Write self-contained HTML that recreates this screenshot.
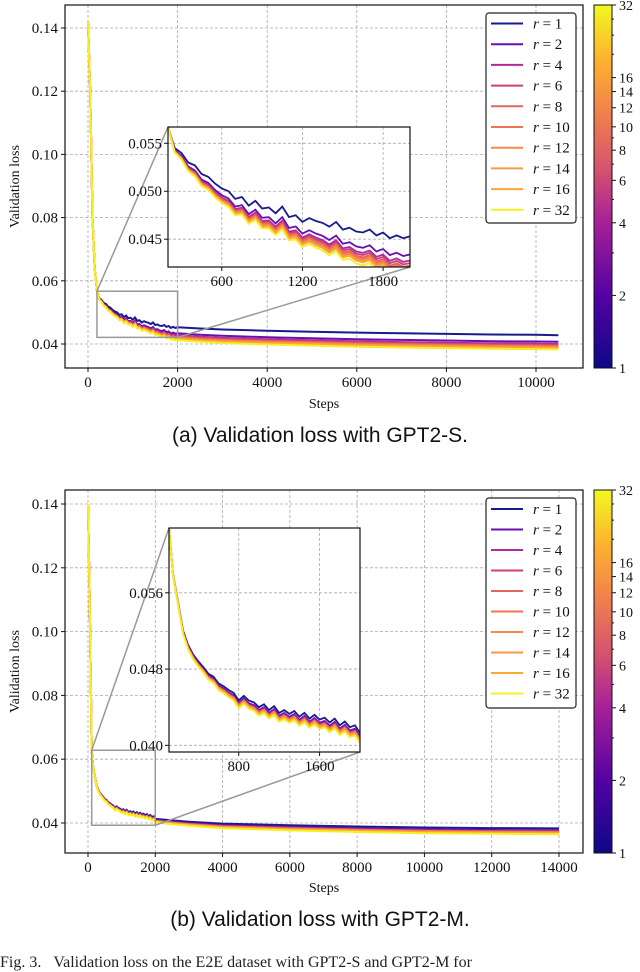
<!DOCTYPE html>
<html><head><meta charset="utf-8">
<style>
html,body{margin:0;padding:0;background:#fff;}
body{width:640px;height:963px;overflow:hidden;position:relative;}
svg{position:absolute;left:0;top:0;}
.cap{position:absolute;left:0;width:640px;text-align:center;font-family:"Liberation Sans",sans-serif;font-size:21px;color:#111;}
</style></head>
<body>
<svg id="svg" width="640" height="963"></svg>
<div class="cap" style="top:424px">(a) Validation loss with GPT2-S.</div>
<div class="cap" style="top:908px">(b) Validation loss with GPT2-M.</div>
<div style="position:absolute;left:0;top:954px;font-family:'Liberation Serif',serif;font-size:16px;color:#222;white-space:nowrap">Fig. 3.&nbsp;&nbsp;&nbsp;Validation loss on the E2E dataset with GPT2-S and GPT2-M for</div>
<script>
// ---- data ----
const ranks = [1,2,4,6,8,10,12,14,16,32];
const rankColors = ['#1a1a8c','#6a0fb0','#b02a9a','#cc3f78','#e06662','#ef7350','#f58a4a','#f79a45','#fca636','#f5f020'];
const cbTicks = [1,2,4,6,8,10,12,14,16,32];

const stepsA = [0,50,100,150,200,250,300,350,400,450,500,550,600,650,700,750,800,850,900,950,1000,1050,1100,1150,1200,1250,1300,1350,1400,1450,1500,1550,1600,1650,1700,1750,1800,1850,1900,1950,2000,2500,3000,4000,5000,6000,7000,8000,9000,10000,10500];
const lossA_r1 = [0.142,0.12,0.08,0.064,0.0567,0.0545,0.054,0.053,0.0527,0.0518,0.0515,0.0508,0.0503,0.05,0.0492,0.0494,0.0485,0.049,0.0482,0.0483,0.0477,0.0484,0.0473,0.0475,0.0468,0.0472,0.0469,0.0467,0.0463,0.0468,0.046,0.0462,0.0458,0.0457,0.046,0.0454,0.0457,0.0451,0.0454,0.0451,0.0453,0.0449,0.0446,0.0442,0.0439,0.0436,0.0434,0.0432,0.043,0.0429,0.0428];
const gapA = [0,0,0,0,0,0.1,0.15,0.2,0.25,0.28,0.3,0.32,0.34,0.36,0.38,0.4,0.42,0.44,0.46,0.48,0.5,0.52,0.54,0.56,0.58,0.6,0.62,0.64,0.66,0.68,0.7,0.72,0.74,0.76,0.78,0.8,0.82,0.84,0.86,0.88,0.9,0.93,0.95,0.97,0.98,0.99,1,1,1,1,1];
const offsetA = [0,-0.0021,-0.0028,-0.0031,-0.0034,-0.0036,-0.0038,-0.004,-0.0041,-0.0045];

const stepsB = [0,50,110,150,200,250,300,350,400,450,500,550,600,650,700,750,800,850,900,950,1000,1050,1100,1150,1200,1250,1300,1350,1400,1450,1500,1550,1600,1650,1700,1750,1800,1850,1900,1950,2000,2500,3000,4000,6000,8000,10000,12000,14000];
const lossB_r1 = [0.14,0.11,0.0628,0.058,0.055,0.052,0.0505,0.0495,0.0488,0.0482,0.0475,0.0472,0.0465,0.0462,0.0458,0.0455,0.0447,0.0452,0.0447,0.0445,0.044,0.0443,0.0437,0.0441,0.0434,0.0437,0.0433,0.0436,0.043,0.0434,0.0428,0.0432,0.0427,0.0429,0.0424,0.0428,0.0421,0.0425,0.0419,0.0421,0.0413,0.0408,0.0404,0.0398,0.0393,0.0389,0.0386,0.0384,0.0383];
const gapB = [0,0,0,0.1,0.15,0.2,0.25,0.28,0.3,0.32,0.34,0.36,0.38,0.4,0.42,0.44,0.45,0.46,0.47,0.48,0.49,0.5,0.5,0.51,0.51,0.52,0.52,0.53,0.53,0.54,0.54,0.55,0.55,0.56,0.56,0.57,0.57,0.58,0.58,0.59,0.6,0.65,0.7,0.8,0.9,0.95,1,1,1];
const offsetB = [0,-0.0006,-0.0009,-0.001,-0.0011,-0.0012,-0.0013,-0.0014,-0.0015,-0.0018];

const xTicksA = [0,2000,4000,6000,8000,10000];
const xTicksB = [0,2000,4000,6000,8000,10000,12000,14000];
const yTicks = [0.04,0.06,0.08,0.10,0.12,0.14];
const insetXTicksA = [600,1200,1800];
const insetYTicksA = [0.045,0.050,0.055];
const insetXTicksB = [800,1600];
const insetYTicksB = [0.040,0.048,0.056];

// ---- drawing ----
const NS='http://www.w3.org/2000/svg';
const svg=document.getElementById('svg');
function mk(tag,attrs,parent){const e=document.createElementNS(NS,tag);for(const k in attrs)e.setAttribute(k,attrs[k]);(parent||svg).appendChild(e);return e;}
function txt(s,attrs,parent){const e=mk('text',Object.assign({'font-family':'Liberation Serif, serif','font-size':'15','fill':'#111'},attrs),parent);e.textContent=s;return e;}
function lin(d0,d1,p0,p1){return v=>p0+(v-d0)*(p1-p0)/(d1-d0);}
let clipId=0;

function drawChart(c){
  const g=mk('g',{});
  
  
  const X=lin(c.x0,c.x1,c.px0,c.px1), Y=lin(c.y0,c.y1,c.py0,c.py1);
  const L=65,R=583,T=c.top,B=c.bottom;
  c.xTicks.forEach(t=>{const l=mk('line',{x1:X(t),x2:X(t),y1:T,y2:B,stroke:'#aaa','stroke-width':0.8,'stroke-dasharray':'3,2'},g);});
  yTicks.forEach(t=>{const l=mk('line',{x1:L,x2:R,y1:Y(t),y2:Y(t),stroke:'#aaa','stroke-width':0.8,'stroke-dasharray':'3,2'},g);});
  const cid='c'+(clipId++);
  const cp=mk('clipPath',{id:cid},g);mk('rect',{x:L,y:T,width:R-L,height:B-T},cp);
  const lg=mk('g',{'clip-path':'url(#'+cid+')'},g);
  const series=ranks.map((r,i)=>c.steps.map((s,j)=>[s,c.base[j]+c.offset[i]*c.gap[j]]));
  series.forEach((ser,i)=>{const p=mk('polyline',{points:ser.map(d=>X(d[0]).toFixed(1)+','+Y(d[1]).toFixed(1)).join(' '),fill:'none',stroke:rankColors[i],'stroke-width':2},lg);});
  const fr=mk('rect',{x:L,y:T,width:R-L,height:B-T,fill:'none',stroke:'#111','stroke-width':1.2},g);
  c.xTicks.forEach(t=>{mk('line',{x1:X(t),x2:X(t),y1:B,y2:B+4,stroke:'#111'},g);const e=txt(String(t),{x:X(t),y:B+19,'text-anchor':'middle'},g);});
  yTicks.forEach(t=>{mk('line',{x1:L-4,x2:L,y1:Y(t),y2:Y(t),stroke:'#111'},g);const e=txt(t.toFixed(2),{x:L-7,y:Y(t)+5,'text-anchor':'end'},g);});
  const xl=txt('Steps',{x:324,y:c.xlabelY,'text-anchor':'middle','font-size':'14'},g);
  const yl=txt('Validation loss',{x:0,y:0,'text-anchor':'middle','font-size':'14',transform:'translate(19,'+((T+B)/2)+') rotate(-90)'},g);
  const ins=c.inset;
  const rx0=X(ins.x0),rx1=X(ins.x1),ry0=Y(ins.y1),ry1=Y(ins.y0);
  const zr=mk('rect',{x:rx0,y:ry0,width:rx1-rx0,height:ry1-ry0,fill:'none',stroke:'#999','stroke-width':1.5},g);
  mk('line',{x1:rx0,y1:ry0,x2:ins.L,y2:ins.T,stroke:'#999','stroke-width':1.5},g);
  mk('line',{x1:rx1,y1:ry1,x2:ins.R,y2:ins.B,stroke:'#999','stroke-width':1.5},g);
  const ig=mk('g',{},g);
  const IX=lin(ins.x0,ins.x1,ins.L,ins.R), IY=lin(ins.y0,ins.y1,ins.B,ins.T);
  mk('rect',{x:ins.L,y:ins.T,width:ins.R-ins.L,height:ins.B-ins.T,fill:'#fff'},ig);
  ins.xt.forEach(t=>{mk('line',{x1:IX(t),x2:IX(t),y1:ins.T,y2:ins.B,stroke:'#aaa','stroke-width':0.8,'stroke-dasharray':'3,2'},ig);mk('line',{x1:IX(t),x2:IX(t),y1:ins.B,y2:ins.B+4,stroke:'#111'},ig);const e=txt(String(t),{x:IX(t),y:ins.B+19,'text-anchor':'middle'},ig);});
  ins.yt.forEach(t=>{mk('line',{x1:ins.L,x2:ins.R,y1:IY(t),y2:IY(t),stroke:'#aaa','stroke-width':0.8,'stroke-dasharray':'3,2'},ig);mk('line',{x1:ins.L-4,x2:ins.L,y1:IY(t),y2:IY(t),stroke:'#111'},ig);const e=txt(t.toFixed(3),{x:ins.L-6,y:IY(t)+5,'text-anchor':'end'},ig);});
  const cid2='c'+(clipId++);
  const cp2=mk('clipPath',{id:cid2},ig);mk('rect',{x:ins.L,y:ins.T,width:ins.R-ins.L,height:ins.B-ins.T},cp2);
  const ilg=mk('g',{'clip-path':'url(#'+cid2+')'},ig);
  series.forEach((ser,i)=>{const p=mk('polyline',{points:ser.map(d=>IX(d[0]).toFixed(1)+','+IY(d[1]).toFixed(1)).join(' '),fill:'none',stroke:rankColors[i],'stroke-width':1.8},ilg);});
  mk('rect',{x:ins.L,y:ins.T,width:ins.R-ins.L,height:ins.B-ins.T,fill:'none',stroke:'#111','stroke-width':1.2},ig);
  const lgd=mk('g',{},g);
  mk('rect',{x:486,y:c.legTop,width:90,height:c.legH,rx:3,fill:'#fff',stroke:'#222','stroke-width':1.2},lgd);
  ranks.forEach((r,i)=>{const y=c.legFirst+i*c.legStep;
    const e=mk('g',{},lgd);
    mk('line',{x1:491,x2:523,y1:y,y2:y,stroke:rankColors[i],'stroke-width':2},e);
    const t=mk('text',{x:533,y:y+5,'font-family':'Liberation Serif, serif','font-size':'15',fill:'#111'},e);
    t.innerHTML='<tspan font-style="italic">r</tspan> = '+r;});
  const cb=mk('g',{},g);
  const gid='gr'+clipId;
  const lgr=mk('linearGradient',{id:gid,x1:0,y1:1,x2:0,y2:0},cb);
  [['0','#0d0887'],['0.2','#5402a3'],['0.4','#a62098'],['0.55','#d5536f'],['0.7','#f0804d'],['0.85','#fdb22f'],['1','#f0f921']].forEach(s=>mk('stop',{offset:s[0],'stop-color':s[1]},lgr));
  mk('rect',{x:594,y:T,width:18,height:B-T,fill:'url(#'+gid+')',stroke:'#111','stroke-width':1},cb);
  const CY=v=>B-(Math.log2(v)/5)*(B-T);
  cbTicks.forEach(t=>{mk('line',{x1:612,x2:616,y1:CY(t),y2:CY(t),stroke:'#111'},cb);const e=txt(String(t),{x:619,y:CY(t)+5,'font-size':'14'},cb);});
  [3,5,7,9,20,24,28].forEach(t=>mk('line',{x1:612,x2:614,y1:CY(t),y2:CY(t),stroke:'#111'},cb));
}

drawChart({name:'chart-gpt2-s',steps:stepsA,base:lossA_r1,gap:gapA,offset:offsetA,
  x0:0,x1:10000,px0:88,px1:536,y0:0.04,y1:0.14,py0:344,py1:28,top:5,bottom:368,
  xTicks:xTicksA,xlabelY:408,legTop:13,legH:210,legFirst:23.5,legStep:20.7,
  inset:{x0:200,x1:2000,y0:0.0421,y1:0.0567,L:168,R:410,T:127,B:267,xt:insetXTicksA,yt:insetYTicksA}});
drawChart({name:'chart-gpt2-m',steps:stepsB,base:lossB_r1,gap:gapB,offset:offsetB,
  x0:0,x1:14000,px0:88,px1:559,y0:0.04,y1:0.14,py0:823,py1:504,top:490,bottom:853,
  xTicks:xTicksB,xlabelY:892,legTop:498,legH:210,legFirst:509,legStep:20.5,
  inset:{x0:110,x1:2000,y0:0.0393,y1:0.0628,L:169,R:360,T:528,B:752,xt:insetXTicksB,yt:insetYTicksB}});
</script>
</body></html>
